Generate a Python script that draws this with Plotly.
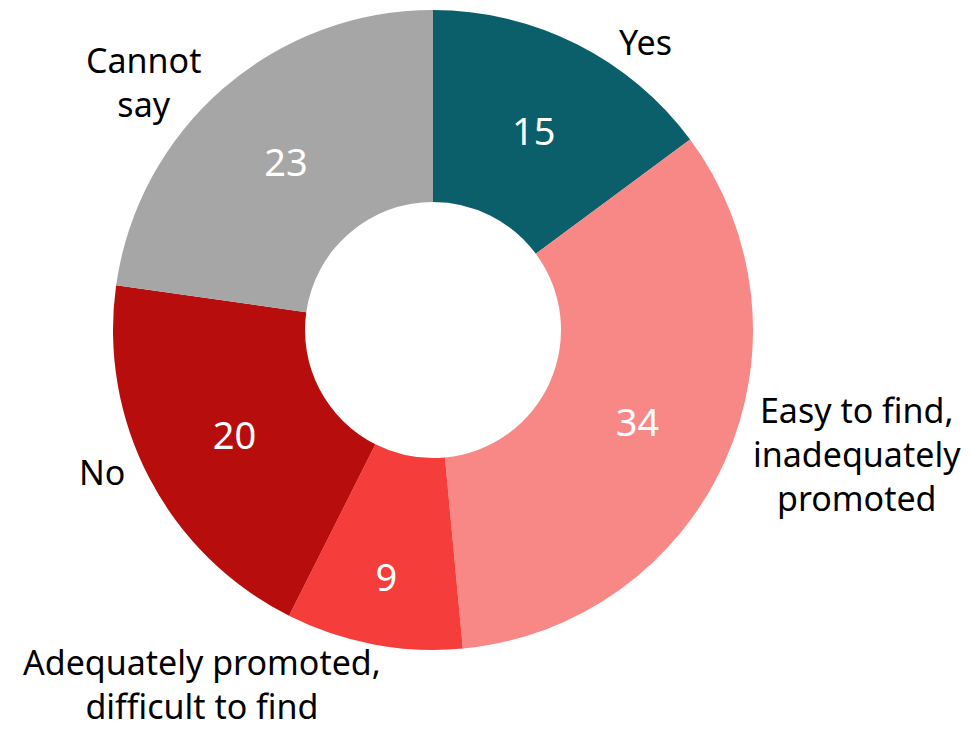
import plotly.graph_objects as go

# survey answers, clockwise from 12 o'clock
categories = ["Yes", "Easy to find, inadequately promoted",
              "Adequately promoted, difficult to find", "No", "Cannot say"]
values = [15, 34, 9, 20, 23]
colors = ["#0B5F6B", "#F88886", "#F53D3B", "#B80D0D", "#A6A6A6"]

# outside label text and where it sits (figure pixels, top-left origin)
label_text = ["Yes", "Easy to find,<br>inadequately<br>promoted",
              "Adequately promoted,<br>difficult to find", "No", "Cannot<br>say"]
label_pos = [(637, 34), (849, 446), (194, 723), (94, 464), (135, 74)]
label_anchor = ["middle", "middle", "bottom", "middle", "middle"]

W, H = 972, 729

fig = go.Figure(go.Pie(
    labels=categories,
    values=values,
    marker=dict(colors=colors, line=dict(width=0)),
    hole=0.4,
    sort=False,
    direction="clockwise",
    rotation=0,
    textinfo="value",
    textposition="inside",
    insidetextorientation="horizontal",
    insidetextfont=dict(color="white", size=38, family="Noto Sans"),
    domain=dict(x=[105 / W, 745 / W], y=[1 - 642 / H, 1 - 2 / H]),
    showlegend=False,
    hoverinfo="label+value",
))

for txt, (px, py), anc in zip(label_text, label_pos, label_anchor):
    fig.add_annotation(
        x=px / W, y=1 - py / H, xref="paper", yref="paper",
        text=txt, showarrow=False, xanchor="center", yanchor=anc,
        align="center", font=dict(size=34, color="black", family="Noto Sans"),
    )

fig.update_layout(
    width=W, height=H,
    margin=dict(l=0, r=0, t=0, b=0),
    paper_bgcolor="white",
    plot_bgcolor="white",
)

fig.write_html("out.html")
